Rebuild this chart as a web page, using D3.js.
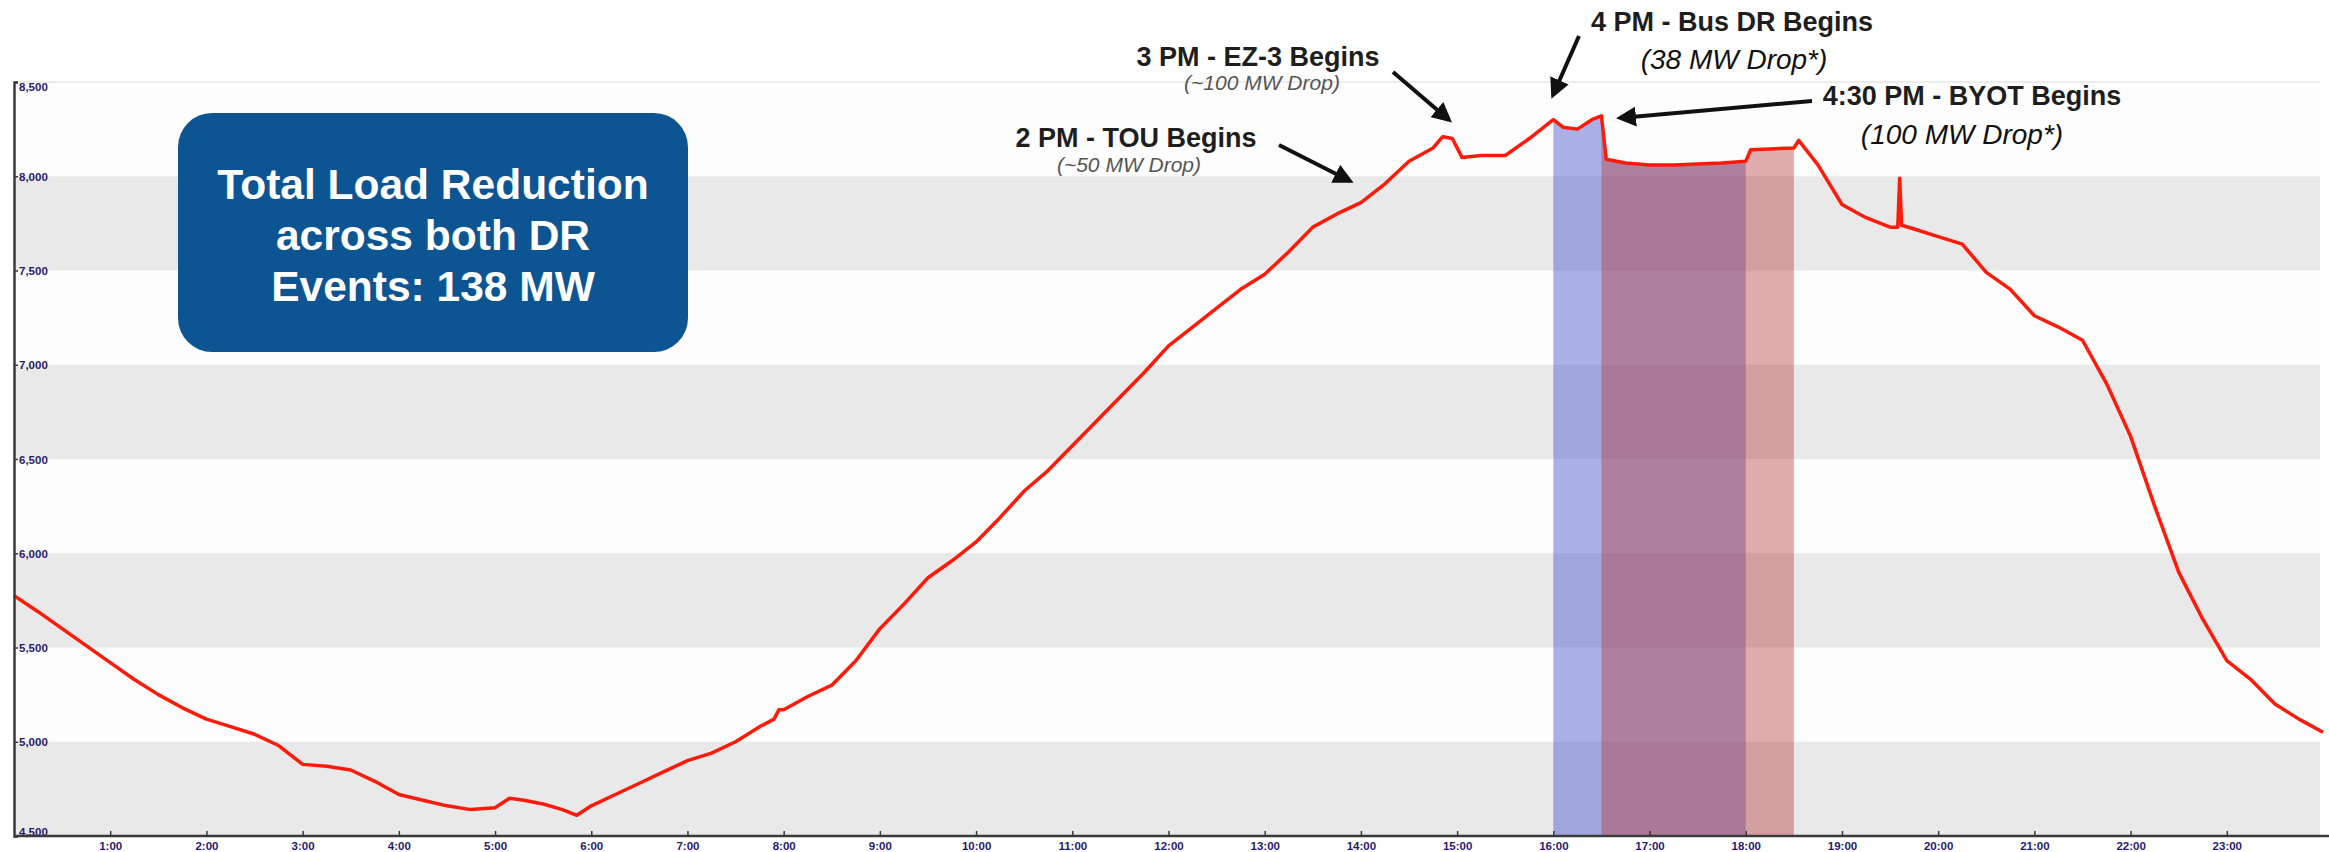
<!DOCTYPE html>
<html>
<head>
<meta charset="utf-8">
<script src="https://cdn.jsdelivr.net/npm/d3@7"></script>
<style>
  html, body { margin: 0; padding: 0; background: #ffffff; }
  svg { display: block; }
</style>
</head>
<body>
<svg id="chart" width="2329" height="852"></svg>
<script>
// ---------------- DATA ----------------
// time of day in decimal hours
const hours = [
  0, 0.25, 0.5, 0.75, 1, 1.25, 1.5, 1.75, 2, 2.25, 2.5, 2.75, 3, 3.25, 3.5, 3.75,
  4, 4.25, 4.5, 4.75, 5, 5.15, 5.3, 5.5, 5.7, 5.85, 6, 6.25, 6.5, 6.75,
  7, 7.25, 7.5, 7.75, 7.9, 7.95, 8, 8.25, 8.5, 8.75, 9, 9.25, 9.5, 9.75,
  10, 10.25, 10.5, 10.75, 11, 11.25, 11.5, 11.75, 12, 12.25, 12.5, 12.75,
  13, 13.25, 13.5, 13.75, 14, 14.1, 14.25, 14.5, 14.75, 14.85, 14.95, 15.05, 15.25, 15.5, 15.75,
  16, 16.1, 16.25, 16.4, 16.5, 16.55, 16.75, 17, 17.25, 17.5, 17.75,
  18, 18.05, 18.25, 18.5, 18.55, 18.75, 19, 19.25, 19.5, 19.58, 19.6, 19.62, 19.75,
  20, 20.25, 20.5, 20.75, 21, 21.25, 21.5, 21.75, 22, 22.25, 22.5, 22.75,
  23, 23.25, 23.5, 23.75, 24
];
// system load (MW)
const loadMW = [
  5775, 5690, 5600, 5510, 5420, 5330, 5250, 5180, 5120, 5080, 5040, 4980, 4880, 4870, 4850, 4790,
  4720, 4690, 4660, 4640, 4650, 4700, 4690, 4670, 4640, 4610, 4660, 4720, 4780, 4840,
  4900, 4940, 5000, 5080, 5120, 5170, 5170, 5240, 5300, 5430, 5600, 5730, 5870, 5960,
  6060, 6190, 6330, 6440, 6570, 6700, 6830, 6960, 7100, 7200, 7300, 7400,
  7480, 7600, 7730, 7800, 7860, 7900, 7960, 8080, 8150, 8210, 8200, 8100, 8110, 8110, 8200,
  8300, 8260, 8250, 8300, 8320, 8090, 8070, 8060, 8060, 8065, 8070,
  8080, 8140, 8145, 8150, 8190, 8060, 7850, 7780, 7730, 7730, 7990, 7740, 7720,
  7680, 7640, 7490, 7400, 7260, 7200, 7130, 6900, 6620, 6250, 5900, 5650,
  5430, 5330, 5200, 5120, 5050
];
const yTicks = [4500, 5000, 5500, 6000, 6500, 7000, 7500, 8000, 8500];
const xTicks = [1, 2, 3, 4, 5, 6, 7, 8, 9, 10, 11, 12, 13, 14, 15, 16, 17, 18, 19, 20, 21, 22, 23];
const bandStarts = [4500, 5500, 6500, 7500];
const eventNames = ["Bus DR", "BYOT"];
const eventStart = [16, 16.5];
const eventEnd = [18, 18.5];
const boxLines = ["Total Load Reduction", "across both DR", "Events: 138 MW"];
const annoTitles = ["2 PM - TOU Begins", "3 PM - EZ-3 Begins", "4 PM - Bus DR Begins", "4:30 PM - BYOT Begins"];
const annoSubs = ["(~50 MW Drop)", "(~100 MW Drop)", "(38 MW Drop*)", "(100 MW Drop*)"];

// ---------------- LAYOUT ----------------
const svg = d3.select("#chart");
const x = d3.scaleLinear().domain([0, 24]).range([14, 2323]);
const y = d3.scaleLinear().domain([4500, 8500]).range([836, 82]);
const data = hours.map((h, i) => ({ t: h, v: loadMW[i] }));
const FONT = "Liberation Sans, Arial, sans-serif";

// background bands
svg.append("rect").attr("x", x(0)).attr("y", y(8500)).attr("width", 2320 - x(0))
  .attr("height", y(4500) - y(8500)).attr("fill", "#fdfdfd");
svg.append("g").selectAll("rect").data(bandStarts).join("rect")
  .attr("x", x(0)).attr("width", 2320 - x(0))
  .attr("y", d => y(d + 500)).attr("height", d => y(d) - y(d + 500))
  .attr("fill", "#e9e9e9");
svg.append("line").attr("x1", x(0)).attr("x2", 2320).attr("y1", y(8500)).attr("y2", y(8500))
  .attr("stroke", "#ececec").attr("stroke-width", 2);

// event shading (area under curve)
const eventFills = ["rgba(88,100,205,0.5)", "rgba(182,62,64,0.43)"];
const area = d3.area().x(d => x(d.t)).y0(y(4500)).y1(d => y(d.v));
eventNames.forEach((n, i) => {
  const seg = data.filter(d => d.t >= eventStart[i] && d.t <= eventEnd[i]);
  svg.append("path").datum(seg).attr("d", area).attr("fill", eventFills[i]);
});

// load line
const line = d3.line().x(d => x(d.t)).y(d => y(d.v));
svg.append("path").datum(data).attr("d", line)
  .attr("fill", "none").attr("stroke", "#ff1a0a").attr("stroke-width", 3.5)
  .attr("stroke-linejoin", "round");

// axes
const yAxis = d3.axisLeft(y).tickValues(yTicks).tickSize(-4).tickFormat(d3.format(","));
const gy = svg.append("g").attr("transform", `translate(${x(0)},0)`).call(yAxis);
gy.select(".domain").attr("stroke", "#3a3a3a").attr("stroke-width", 2.5);
gy.selectAll(".tick line").attr("stroke", "#3a3a3a").attr("stroke-width", 1.5);
gy.selectAll(".tick text")
  .attr("x", 5).attr("text-anchor", "start")
  .attr("dy", d => d === 8500 ? "0.75em" : (d === 4500 ? "-0.05em" : "0.35em"))
  .attr("font-family", FONT).attr("font-size", 11.5)
  .attr("font-weight", "bold").attr("fill", "#2a1a6e");

const xAxis = d3.axisBottom(x).tickValues(xTicks).tickSize(-5).tickFormat(d => d + ":00");
const gx = svg.append("g").attr("transform", `translate(0,${y(4500)})`).call(xAxis);
gx.select(".domain").attr("d", `M${x(0)},0H2329`).attr("stroke", "#3a3a3a").attr("stroke-width", 2.5);
gx.selectAll(".tick line").attr("stroke", "#3a3a3a").attr("stroke-width", 1.5);
gx.selectAll(".tick text").attr("y", 6)
  .attr("font-family", FONT).attr("font-size", 11.5)
  .attr("font-weight", "bold").attr("fill", "#2a1a6e");

// info box
svg.append("rect").attr("x", 178).attr("y", 113).attr("width", 510).attr("height", 239)
  .attr("rx", 34).attr("fill", "#0c5592");
svg.append("g").selectAll("text").data(boxLines).join("text")
  .attr("x", 433).attr("y", (d, i) => 199 + i * 51)
  .attr("text-anchor", "middle").attr("fill", "#ffffff")
  .attr("font-family", FONT).attr("font-weight", "bold")
  .attr("font-size", 42.5).text(d => d);

// annotations
const defs = svg.append("defs");
defs.append("marker").attr("id", "ah").attr("viewBox", "0 0 10 10")
  .attr("refX", 8).attr("refY", 5).attr("markerWidth", 5).attr("markerHeight", 5)
  .attr("orient", "auto-start-reverse")
  .append("path").attr("d", "M0,0L10,5L0,10Z").attr("fill", "#111");

const titlePos = [[1136, 147], [1258, 66], [1732, 31], [1972, 105]];
const subPos = [[1129, 172], [1262, 90], [1734, 69], [1962, 144]];
const subStyle = ["small", "small", "big", "big"];
const arrowFrom = [[1279, 145], [1393, 72], [1579, 36], [1812, 101]];
const arrowTo = [[1350, 181], [1449, 120], [1553, 95], [1620, 118]];

annoTitles.forEach((t, i) => {
  svg.append("text").attr("x", titlePos[i][0]).attr("y", titlePos[i][1])
    .attr("text-anchor", "middle").attr("font-family", FONT)
    .attr("font-weight", "bold").attr("font-size", 27).attr("fill", "#1e1e1e").text(t);
  const small = subStyle[i] === "small";
  svg.append("text").attr("x", subPos[i][0]).attr("y", subPos[i][1])
    .attr("text-anchor", "middle").attr("font-family", FONT)
    .attr("font-style", "italic").attr("font-size", small ? 21 : 28)
    .attr("fill", small ? "#555" : "#111").text(annoSubs[i]);
  svg.append("line")
    .attr("x1", arrowFrom[i][0]).attr("y1", arrowFrom[i][1])
    .attr("x2", arrowTo[i][0]).attr("y2", arrowTo[i][1])
    .attr("stroke", "#111").attr("stroke-width", 4).attr("marker-end", "url(#ah)");
});
</script>
</body>
</html>
